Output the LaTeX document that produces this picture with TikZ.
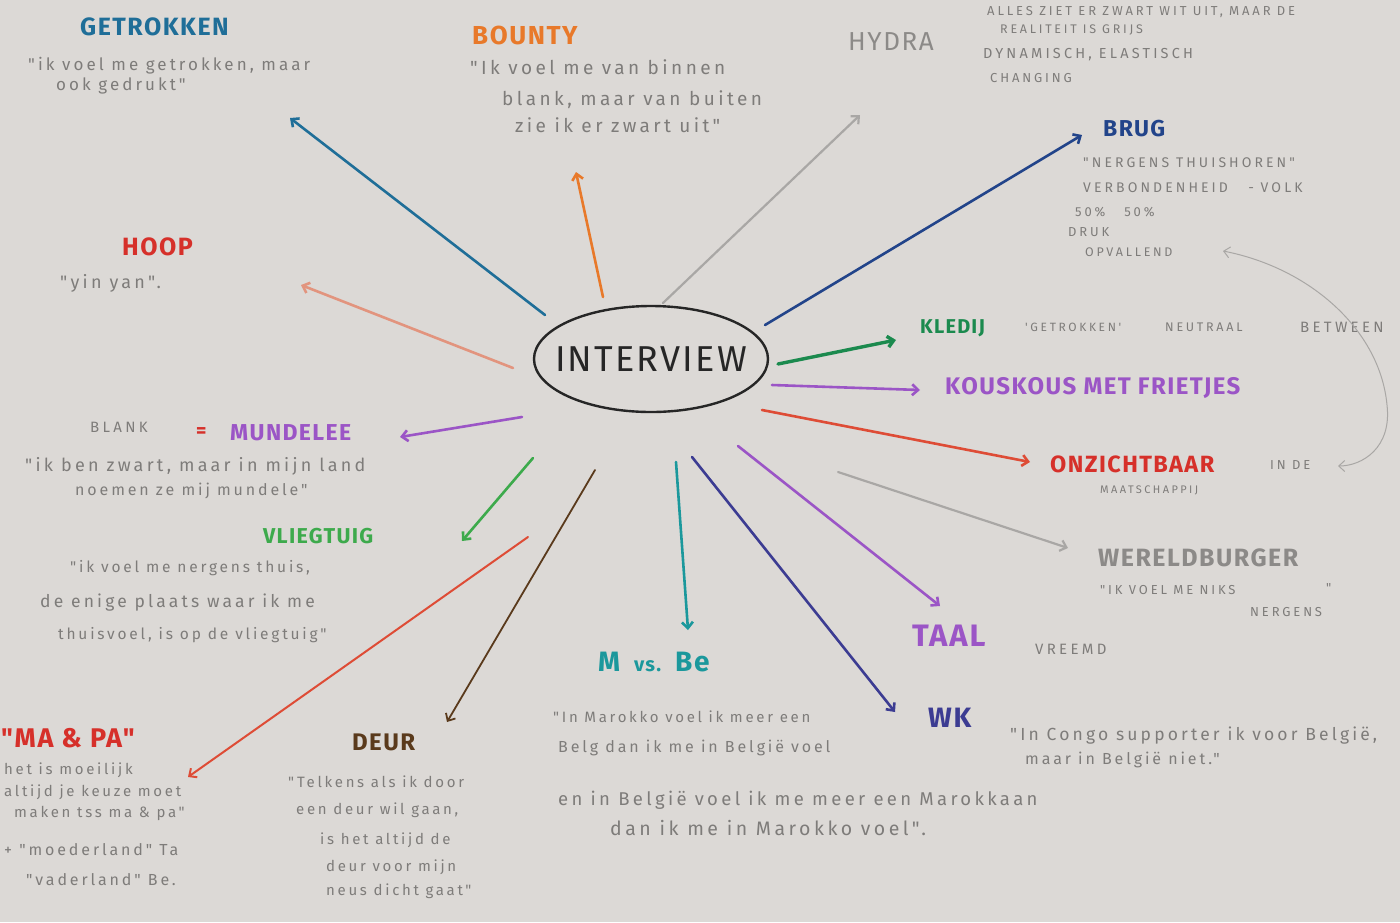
\documentclass[tikz,border=0pt]{standalone}
\usepackage{fontspec}
\setmainfont{Fira Sans}
\newfontfamily\notefont[LetterSpace=18]{Fira Sans}
\newfontfamily\capfont[LetterSpace=22]{Fira Sans}
\newfontfamily\headfont[LetterSpace=6]{Fira Sans}
\usetikzlibrary{arrows.meta,shapes.geometric}

\definecolor{paper}{HTML}{DCD9D6}
\definecolor{pencil}{HTML}{7E7C7A}
\definecolor{cTeal}{HTML}{1F6E98}
\definecolor{cOrange}{HTML}{E8792A}
\definecolor{cGrayLine}{HTML}{A9A7A5}
\definecolor{cGrayHead}{HTML}{8C8A88}
\definecolor{cNavy}{HTML}{22448A}
\definecolor{cGreen}{HTML}{1B8A4E}
\definecolor{cPurple}{HTML}{9B55C6}
\definecolor{cRed}{HTML}{D6302A}
\definecolor{cRedLine}{HTML}{DE4C36}
\definecolor{cIndigo}{HTML}{3C3C92}
\definecolor{cCyan}{HTML}{1B989C}
\definecolor{cBrown}{HTML}{5A3A1C}
\definecolor{cLime}{HTML}{3DAA4C}
\definecolor{cSalmon}{HTML}{E2947E}
\definecolor{cInk}{HTML}{262626}

\tikzset{
  head/.style={anchor=west, inner sep=0pt, font=\headfont\bfseries\fontsize{#1}{#1}\selectfont},
  note/.style={anchor=west, inner sep=0pt, text=pencil, font=\notefont\fontsize{#1}{#1}\selectfont},
  capnote/.style={anchor=west, inner sep=0pt, text=pencil, font=\capfont\fontsize{#1}{#1}\selectfont},
  branch/.style={line width=2.6pt, line cap=round, -{Straight Barb[length=6pt,width=11pt]}},
  pencilline/.style={line width=2.2pt, line cap=round, -{Straight Barb[length=6pt,width=11pt]}},
}

\begin{document}
\begin{tikzpicture}[x=1pt,y=-1pt]
  % paper
  \fill[paper] (0,0) rectangle (1400,922);
  \useasboundingbox (0,0) rectangle (1400,922);
  \clip (0,0) rectangle (1400,922);

  % central idea
  \node[ellipse, draw=cInk, line width=2.4pt, minimum width=234pt, minimum height=106pt,
        inner sep=0pt] (iv) at (651,359) {};
  \node[inner sep=0pt, text=cInk, font=\headfont\fontsize{36}{36}\selectfont] (ivtext) at (iv.center) {INTERVIEW};

  % ---- top left: Getrokken
  \node[head=25, text=cTeal] (getrokken) at (80,27) {GETROKKEN};
  \node[note=17] (getrokkenA) at (28,66) {"ik voel me getrokken, maar};
  \node[note=17] (getrokkenB) at (56,86) {ook gedrukt"};

  % ---- Bounty
  \node[head=26, text=cOrange] (bounty) at (472,35) {BOUNTY};
  \node[note=19] (bountyA) at (470,67) {"Ik voel me van binnen};
  \node[note=19] (bountyB) at (502,100) {blank, maar van buiten};
  \node[note=19] (bountyC) at (515,125) {zie ik er zwart uit"};

  % ---- Hydra
  \node[anchor=west, inner sep=0pt, text=cGrayHead, font=\headfont\fontsize{26}{26}\selectfont] (hydra) at (848,42) {HYDRA};
  \node[capnote=13] (hydraA) at (987,12) {ALLES ZIET ER ZWART WIT UIT, MAAR DE};
  \node[capnote=12.5] (hydraB) at (1000,30) {REALITEIT IS GRIJS};
  \node[capnote=14.5] (hydraC) at (983,55) {DYNAMISCH, ELASTISCH};
  \node[capnote=13] (hydraD) at (990,78) {CHANGING};

  % ---- Brug
  \node[head=23, text=cNavy] (brug) at (1103,129) {BRUG};
  \node[capnote=14] (brugA) at (1083,163) {"NERGENS THUISHOREN"};
  \node[capnote=14] (brugB) at (1083,188) {VERBONDENHEID \ \ - VOLK};
  \node[capnote=13] (brugC) at (1075,212) {50\% \ \ 50\%};
  \node[capnote=13] (brugD) at (1068,232) {DRUK};
  \node[capnote=12.5] (brugE) at (1085,252) {OPVALLEND};

  % ---- right side
  \node[head=20, text=cGreen] (kledij) at (920,328) {KLEDIJ};
  \node[capnote=12] (kledijA) at (1025,327) {'GETROKKEN'};
  \node[capnote=12.5] (kledijB) at (1165,327) {NEUTRAAL};
  \node[capnote=15] (kledijC) at (1300,327) {BETWEEN};

  \node[head=24, text=cPurple] (kouskous) at (945,388) {KOUSKOUS MET FRIETJES};

  \node[head=23.5, text=cRed] (onzicht) at (1050,464) {ONZICHTBAAR};
  \node[capnote=13] (onzichtA) at (1270,465) {IN DE};
  \node[capnote=11] (onzichtB) at (1100,490) {MAATSCHAPPIJ};

  \node[anchor=west, inner sep=0pt, text=cGrayHead, font=\headfont\bfseries\fontsize{25}{25}\selectfont] (wereld) at (1098,558) {WERELDBURGER};
  \node[capnote=13] (wereldA) at (1100,590) {"IK VOEL ME NIKS};
  \node[capnote=13] (wereldQ) at (1326,588) {"};
  \node[capnote=13] (wereldB) at (1250,612) {NERGENS};

  \node[head=31, text=cPurple] (taal) at (912,636) {TAAL};
  \node[capnote=15] (taalA) at (1035,649) {VREEMD};

  \node[head=28, text=cIndigo] (wk) at (928,718) {WK};
  \node[note=17.5] (wkA) at (1010,736) {"In Congo supporter ik voor België,};
  \node[note=16] (wkB) at (1025,760) {maar in België niet."};

  % ---- bottom middle
  \node[head=28, text=cCyan] (mvsbe) at (598,662) {M\hspace{14pt}{\fontsize{20}{20}\selectfont vs.}\hspace{14pt}Be};
  \node[note=15] (mvsbeA) at (553,717) {"In Marokko voel ik meer een};
  \node[note=16] (mvsbeB) at (558,748) {Belg dan ik me in België voel};
  \node[note=18.5] (mvsbeC) at (558,800) {en in België voel ik me meer een Marokkaan};
  \node[note=19.5] (mvsbeD) at (610,828) {dan ik me in Marokko voel".};

  \node[head=24, text=cBrown] (deur) at (352,742) {DEUR};
  \node[note=15] (deurA) at (288,782) {"Telkens als ik door};
  \node[note=15] (deurB) at (296,810) {een deur wil gaan,};
  \node[note=15] (deurC) at (320,840) {is het altijd de};
  \node[note=15] (deurD) at (326,867) {deur voor mijn};
  \node[note=15] (deurE) at (326,891) {neus dicht gaat"};

  % ---- bottom left
  \node[head=27, text=cRed] (mapa) at (1,738) {"MA \& PA"};
  \node[note=15] (mapaA) at (4,770) {het is moeilijk};
  \node[note=15] (mapaB) at (4,792) {altijd je keuze moet};
  \node[note=15] (mapaC) at (14,813) {maken tss ma \& pa"};
  \node[note=16] (mapaD) at (4,850) {+ "moederland" Ta};
  \node[note=16] (mapaE) at (26,880) {"vaderland" Be.};

  % ---- left side
  \node[head=21.5, text=cLime] (vlieg) at (263,536) {VLIEGTUIG};
  \node[note=15.5] (vliegA) at (70,568) {"ik voel me nergens thuis,};
  \node[note=17.5] (vliegB) at (40,603) {de enige plaats waar ik me};
  \node[note=15.5] (vliegC) at (58,635) {thuisvoel, is op de vliegtuig"};

  \node[anchor=west, inner sep=0pt, text=pencil, font=\capfont\fontsize{15}{15}\selectfont] (blank) at (90,427) {BLANK};
  \node[head=20, text=cRed] (eq) at (196,433) {=};
  \node[head=23, text=cPurple] (mundelee) at (230,433) {MUNDELEE};
  \node[note=18] (mundeleeA) at (25,466) {"ik ben zwart, maar in mijn land};
  \node[note=16] (mundeleeB) at (75,491) {noemen ze mij mundele"};

  \node[head=25, text=cRed] (hoop) at (122,247) {HOOP};
  \node[note=18] (hoopA) at (60,283) {"yin yan".};

  % ---- branch end points
  \coordinate (s1) at (545,315);  \coordinate (e1) at (290,118);
  \coordinate (s2) at (603,297);  \coordinate (e2) at (576,172);
  \coordinate (s3) at (663,303);  \coordinate (e3) at (860,115);
  \coordinate (s4) at (765,325);  \coordinate (e4) at (1082,135);
  \coordinate (s5) at (778,364);  \coordinate (e5) at (896,340);
  \coordinate (s6) at (772,385);  \coordinate (e6) at (920,390);
  \coordinate (s7) at (762,410);  \coordinate (e7) at (1030,462);
  \coordinate (s8) at (838,472);  \coordinate (e8) at (1068,548);
  \coordinate (s9) at (738,446);  \coordinate (e9) at (940,606);
  \coordinate (s10) at (692,457); \coordinate (e10) at (895,712);
  \coordinate (s11) at (676,462); \coordinate (e11) at (688,630);
  \coordinate (s12) at (595,470); \coordinate (e12) at (447,722);
  \coordinate (s13) at (528,537); \coordinate (e13) at (188,777);
  \coordinate (s14) at (533,458); \coordinate (e14) at (462,541);
  \coordinate (s15) at (522,417); \coordinate (e15) at (400,437);
  \coordinate (s16) at (513,368); \coordinate (e16) at (301,285);

  % ---- branches
  \draw[branch, cTeal]      (s1) -- (e1);
  \draw[branch, cOrange]    (s2) -- (e2);
  \draw[pencilline, cGrayLine] (s3) -- (e3);
  \draw[branch, cNavy]      (s4) -- (e4);
  \draw[branch, cGreen, line width=3.4pt] (s5) -- (e5);
  \draw[branch, cPurple]    (s6) -- (e6);
  \draw[branch, cRedLine]   (s7) -- (e7);
  \draw[pencilline, cGrayLine] (s8) -- (e8);
  \draw[branch, cPurple]    (s9) -- (e9);
  \draw[branch, cIndigo]    (s10) -- (e10);
  \draw[branch, cCyan]      (s11) -- (e11);
  \draw[branch, cBrown, line width=1.8pt] (s12) -- (e12);
  \draw[branch, cRedLine, line width=2pt] (s13) -- (e13);
  \draw[branch, cLime]      (s14) -- (e14);
  \draw[branch, cPurple]    (s15) -- (e15);
  \draw[branch, cSalmon]    (s16) -- (e16);

  % ---- pencil link between Opvallend and Onzichtbaar
  \coordinate (lkA) at (1223,251);
  \coordinate (lkB) at (1338,466);
  \draw[line width=1pt, cGrayLine, line cap=round,
        {Straight Barb[length=6pt,width=11pt]}-{Straight Barb[length=6pt,width=11pt]}]
    (lkA) .. controls (1310,268) and (1380,330) .. (1387,405)
          .. controls (1392,448) and (1362,466) .. (lkB);
\end{tikzpicture}
\end{document}
